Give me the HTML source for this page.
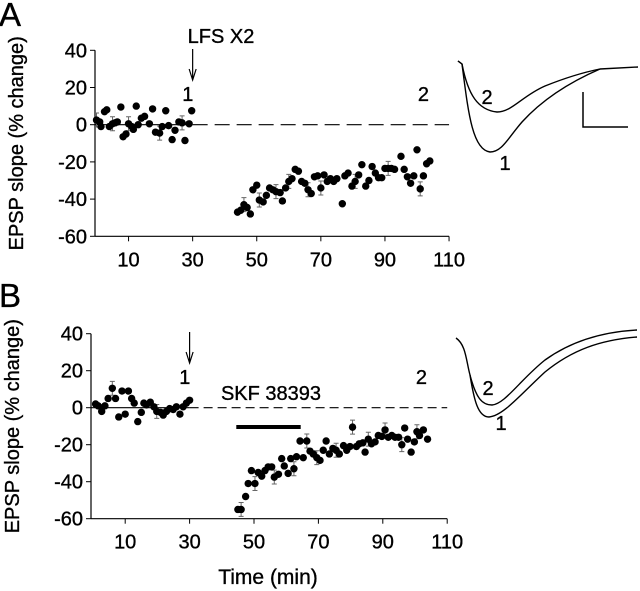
<!DOCTYPE html>
<html><head><meta charset="utf-8"><style>
html,body{margin:0;padding:0;background:#fff;}
svg{display:block;font-family:"Liberation Sans",Arial,sans-serif;}
text{stroke:#000;stroke-width:0.35px;}
</style></head><body>
<svg id="fig" width="640" height="591" viewBox="0 0 640 591"></svg>
<script>
// ---- Panel A data ----
const aPreX=[0,1,1.4,2.5,3.2,4,5,5.8,6.5,7.6,8.3,9.2,10,11,11.5,12.4,13,14,15,16.5,17.5,18.4,19.7,20.5,21.6,22.5,23.6,24.5,25.7,26.7,27.6,28.9,29.7];
const aPreY=[2.5,1.5,-1,7,8,-1,0.5,1,1.5,9.5,-6.5,-5,0.5,-1,-2.5,10,0,3.5,4.5,0.5,8.5,-4,-4.5,-1,7.5,-0.5,-8,-3,1.5,1,-8.5,0.5,7.5];
const aPostX=[44,45,46,47,48,48.8,50,50.8,52,53,54,55,56,57.3,58,59,60,61,62,63,64,65,66,67,68,69,70,71,72,73,74,75,76.7,77.5,78.5,79.7,80.7,81.8,82.8,84,85,86,87,88,89,90,91,92,93,95,96,97,98,99,100,101,102,103,104];
const aPostY=[-47,-46,-43,-44.5,-48,-35,-32.5,-40.5,-41.5,-38,-34,-35,-36,-36.5,-41,-34,-30.5,-29,-24,-25,-30.5,-31.5,-35,-37,-28,-27.5,-34,-27,-30.5,-29,-30.5,-29,-42.5,-27.5,-26,-33,-30.5,-27,-21.5,-33,-30,-22.5,-26,-28.5,-28.5,-23.5,-23.5,-23.5,-24,-17,-24,-28,-31.5,-27.5,-13.5,-34.5,-27.5,-21,-19.5];
// ---- Panel B data ----
const bPreX=[0.8,1.6,2.7,3.7,4.7,6,7,8,9,10,11,12,12.8,13.9,15,15.8,16.6,17.8,18.9,19.8,21,21.8,22.8,23.8,24.9,25.9,27,28,29,30];
const bPreY=[2,1,-2,1,5,10.5,5,-5,9,-3.5,9,5,2.5,-7.5,-2.5,2.5,1.5,3,0.5,-2,-2.5,-4,-2,-0.5,-1,0.5,-3.5,0.5,2.5,4];
const bPostX=[45,46,47.4,48.2,49.2,50.3,51.3,52.4,53.4,54.4,55.5,56.3,57.6,58.6,59.4,60.6,61.4,62.4,63.2,64.3,65.3,66.4,67.4,68.4,69.5,70.5,71.5,72.4,73.4,74.5,75.5,76.5,77.8,78.8,79.8,80.6,81.8,82.7,83.8,84.5,85.5,86.5,87.6,88.6,89.7,90.7,91.7,92.8,93.8,94.9,95.9,96.8,97.7,98.8,99.8,100.6,101.4,102.6,103.9];
const bPostY=[-55,-55,-48,-41,-34,-41,-35,-37,-34,-32,-32,-37.5,-36,-27.5,-31.5,-35.5,-27.5,-33,-26.5,-18,-27,-18,-23.5,-25,-27,-28.5,-23,-18,-25,-22,-23,-25,-20.5,-23,-21,-10.5,-21,-19.5,-19,-24,-17,-19.5,-18.5,-15,-15.5,-12,-16,-15,-16,-16,-20,-11,-17,-24,-18.5,-13,-15,-12,-17];
const xTicks=[10,30,50,70,90,110];
const yTicks=[40,20,0,-20,-40,-60];
const aErrX=[0,5,10,20,27,46,51,56,60,66,70,81,91,101];
const bErrX=[6,20,46,50,56,62,66,70,76,81,86,91,96,101];

const NS="http://www.w3.org/2000/svg";
const svg=document.getElementById('fig');
function mk(tag,attrs,parent){const e=document.createElementNS(NS,tag);for(const k in attrs)e.setAttribute(k,attrs[k]);(parent||svg).appendChild(e);return e;}
function txt(s,x,y,size,parent,anchor){const t=mk('text',{x:x,y:y,'font-size':size,'text-anchor':anchor||'middle',fill:'#000'},parent);t.textContent=s;return t;}

function panel(cfg){
  const g=mk('g',{});
  
  
  const sx=m=>cfg.x0+m*cfg.kx;
  const sy=v=>cfg.y0-v*cfg.ky;
  const yBot=sy(-60), yTop=sy(40);
  const ya=mk('line',{x1:cfg.ax,y1:yTop,x2:cfg.ax,y2:yBot,stroke:'#000','stroke-width':1.2},g);
  
  
  const xa=mk('line',{x1:cfg.ax,y1:yBot,x2:sx(110),y2:yBot,stroke:'#000','stroke-width':1.2},g);
  
  
  yTicks.forEach(v=>{
    mk('line',{x1:cfg.ax-5,y1:sy(v),x2:cfg.ax,y2:sy(v),stroke:'#000','stroke-width':1},g);
    const t=txt(String(v),cfg.ax-8,sy(v)+7,20,g,'end');
    
    
  });
  xTicks.forEach(m=>{
    mk('line',{x1:sx(m),y1:yBot,x2:sx(m),y2:yBot+5,stroke:'#000','stroke-width':1},g);
    const t=txt(String(m),sx(m),yBot+30,20,g);
    
    
  });
  const yt=txt('EPSP slope (% change)',0,0,20,g);
  yt.setAttribute('transform','translate('+(cfg.ax-72)+','+((yTop+yBot)/2)+') rotate(-90)');
  
  
  const zs=mk('line',{x1:cfg.ax,y1:sy(0),x2:sx(30),y2:sy(0),stroke:'#000','stroke-width':1.2},g);
  
  
  const zd=mk('line',{x1:sx(30),y1:sy(0),x2:sx(110),y2:sy(0),stroke:'#000','stroke-width':1.2,'stroke-dasharray':cfg.dash},g);
  
  
  const allX=cfg.px.concat(cfg.qx), allY=cfg.py.concat(cfg.qy);
  cfg.err.forEach(m=>{
    let bi=0,bd=1e9;allX.forEach((x,i)=>{const d=Math.abs(x-m);if(d<bd){bd=d;bi=i;}});
    const x=sx(allX[bi]),y=sy(allY[bi]),e=7*cfg.ky/1.86;
    const eb=mk('path',{d:`M${x},${y-e}V${y+e}M${x-2.5},${y-e}H${x+2.5}M${x-2.5},${y+e}H${x+2.5}`,stroke:'#666','stroke-width':1,fill:'none'},g);
    
    
  });
  [[cfg.px,cfg.py,'baseline-point'],[cfg.qx,cfg.qy,'post-point']].forEach(([xs,ys,nm])=>{
    xs.forEach((m,i)=>{
      const c=mk('circle',{cx:sx(m),cy:sy(ys[i]),r:3.7,fill:'#000'},g);
      
      
    });
  });
  const ar=mk('path',{d:`M${sx(30)},${cfg.arTop}V${cfg.arTop+31}M${sx(30)-3.5},${cfg.arTop+20}L${sx(30)},${cfg.arTop+31}L${sx(30)+3.5},${cfg.arTop+20}`,stroke:'#000','stroke-width':1.2,fill:'none'},g);
  
  
  const l1=txt('1',sx(28.5),cfg.lblY,20,g);
  
  
  const l2=txt('2',sx(102),cfg.lblY,20,g);
  
  
  return {sx,sy,g};
}

const A=panel({name:'panel-a-chart',ax:95,x0:96.5,kx:3.205,y0:124.7,ky:1.86,dash:'15 7',px:aPreX,py:aPreY,qx:aPostX,qy:aPostY,err:aErrX,arTop:49,lblY:101});
const B=panel({name:'panel-b-chart',ax:91,x0:93,kx:3.22,y0:407.7,ky:1.85,dash:'9 5',px:bPreX,py:bPreY,qx:bPostX,qy:bPostY,err:bErrX,arTop:332,lblY:384});

let t=txt('A',-1,26,33,svg,'start');
t=txt('B',-1,307,33,svg,'start');
t=txt('LFS X2',221,43,20,svg);
t=txt('SKF 38393',271,400,20,svg);
t=txt('Time (min)',268,584,21,svg);
const bar=mk('rect',{x:B.sx(44.5),y:425,width:B.sx(64.5)-B.sx(44.5),height:4,fill:'#000'});



function trace(d,name){const p=mk('path',{d:d,stroke:'#000','stroke-width':1.4,fill:'none','stroke-linejoin':'round'});}
trace('M458,61 L462,64 C468,95 478,110 497,112 C512,112 522,96 545,86 C570,76 585,72 600,69 L638,67','trace-a-2');
trace('M458,61 L462,64 C468,110 472,150 490,152 C502,152 508,138 522,122 C542,100 570,82 600,69','trace-a-1');
const sb=mk('path',{d:'M583,92V127H628',stroke:'#000','stroke-width':1.5,fill:'none'});

t=txt('2',487,104,20,svg);
t=txt('1',505,170,20,svg);
trace('M456,338 C466,345 466,360 470,375 C476,398 482,405 492,405 C505,404 520,380 545,360 C570,342 600,332 637,330','trace-b-2');
trace('M470,375 C474,400 478,417 489,417 C503,416 520,395 545,372 C572,350 600,340 637,337','trace-b-1');
t=txt('2',488,395,20,svg);
t=txt('1',501,430,20,svg);
</script>
</body></html>
